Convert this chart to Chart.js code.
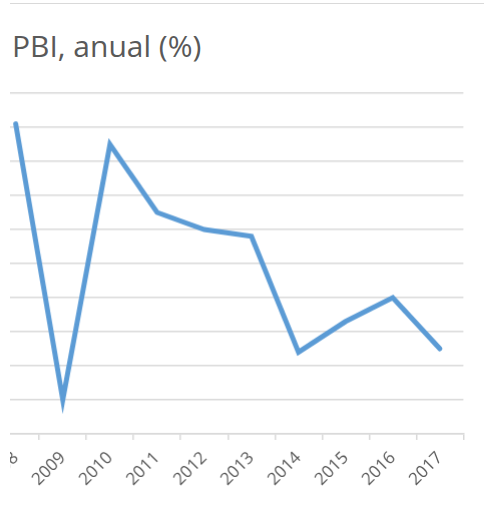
<!DOCTYPE html>
<html>
<head>
<meta charset="utf-8">
<script src="https://cdn.jsdelivr.net/npm/chart.js@4.4.1/dist/chart.umd.min.js"></script>
<style>
	html, body { margin: 0; padding: 0; background: #fff; }
	body { width: 484px; height: 513px; position: relative; overflow: hidden; }
	#frame { position: absolute; left: 10px; top: 3px; width: 474px; border-top: 1px solid #d9d9d9; }
	#title { position: absolute; left: 12px; top: 25px; font: 30px "Open Sans", sans-serif; color: #595959; }
	#clip { position: absolute; left: 10px; top: 0; width: 474px; height: 513px; overflow: hidden; }
	#chart { position: absolute; top: 0; }
</style>
</head>
<body>
<div id="frame"></div>
<div id="title">PBI, anual (%)</div>
<div id="clip"><canvas id="chart" width="520" height="513"></canvas></div>
<script>
const years = ["2008", "2009", "2010", "2011", "2012", "2013", "2014", "2015", "2016", "2017"];
const pbi = [9.1, 1.0, 8.5, 6.5, 6.0, 5.8, 2.4, 3.3, 4.0, 2.5];
const yTicks = [0, 1, 2, 3, 4, 5, 6, 7, 8, 9, 10];

const grey = "#d9d9d9";
const ctx = document.getElementById("chart");

const chart = new Chart(ctx, {
	type: "line",
	data: {
		labels: years,
		datasets: [{
			data: pbi,
			borderColor: "#5b9bd5",
			borderWidth: 5,
			borderCapStyle: "round",
			pointRadius: 0,
			tension: 0
		}]
	},
	options: {
		responsive: false,
		maintainAspectRatio: false,
		animation: false,
		layout: { padding: { top: 93, left: 0, right: 0, bottom: 0 } },
		plugins: {
			legend: { display: false },
			tooltip: { enabled: false }
		},
		scales: {
			x: {
				offset: true,
				grid: {
					offset: true,
					drawOnChartArea: false,
					color: grey,
					tickLength: 6,
					lineWidth: 1.5
				},
				border: { color: grey, width: 1.5 },
				ticks: {
					minRotation: 45,
					maxRotation: 45,
					padding: 8,
					color: "#595959",
					font: { family: "'Open Sans', sans-serif", size: 17 }
				}
			},
			y: {
				min: yTicks[0],
				max: yTicks[yTicks.length - 1],
				afterBuildTicks: s => { s.ticks = yTicks.map(v => ({ value: v })); },
				afterFit: s => { s.width = 0; },
				grid: { color: grey, lineWidth: 1.5, drawTicks: false },
				border: { display: false },
				ticks: { display: false }
			}
		}
	}
});

// shift and size the canvas so the plot spans -8..462 horizontally and 93..433 vertically
function place() {
	const a = chart.chartArea;
	const dw = 470 - (a.right - a.left);
	const dh = 433 - a.bottom;
	if (Math.abs(dw) > 0.5 || Math.abs(dh) > 0.5) {
		chart.resize(chart.width + dw, chart.height + dh);
	}
	const b = chart.chartArea;
	ctx.style.left = (-18 - b.left) + "px";
}
place();
place();
</script>
</body>
</html>
